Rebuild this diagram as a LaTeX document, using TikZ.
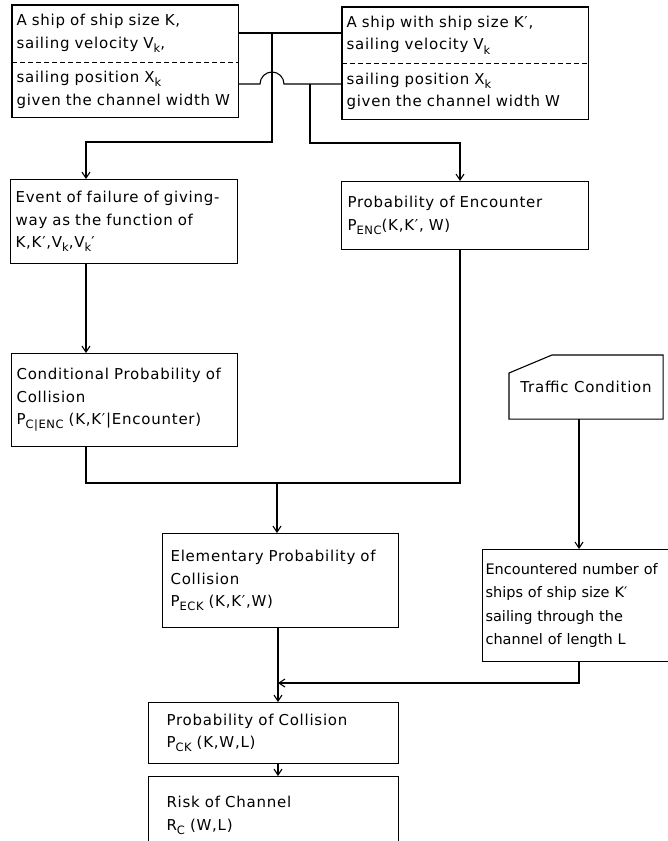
\documentclass[tikz,border=0pt]{standalone}
\usepackage{fontspec}
\setmainfont[LetterSpace=5]{DejaVu Sans}
\usetikzlibrary{arrows.meta,calc}
\newcommand{\lo}[1]{\raisebox{-0.5ex}{\fontsize{11.5}{11.5}\selectfont #1}}

\begin{document}
\begin{tikzpicture}[x=1pt,y=-1pt,line width=1.1pt,
    box/.style={draw,anchor=north west,align=left,inner ysep=0pt,
        font=\fontsize{15}{22.5}\selectfont},
    half/.style={box,draw=none},
    arr/.style={-{Straight Barb[length=6pt,width=8pt]}}]

    \useasboundingbox (0,0) rectangle (667,841);

    % TOP: the two ships
    \node[half,text width=217pt,inner xsep=4pt,minimum height=56pt] (Atop) at (12,5)
        {A ship of  ship size K,\\ sailing velocity V\lo{k},};
    \node[half,text width=217pt,inner xsep=4pt,minimum height=54pt] (Abot) at (Atop.south west)
        {sailing position X\lo{k}\\ given the channel width W};
    \draw (Atop.north west) rectangle (Abot.south east);
    \draw[dash pattern=on 5pt off 3pt] (Atop.south west) -- (Atop.south east);

    \node[half,text width=237pt,inner xsep=4pt,minimum height=55pt] (Btop) at (342,7)
        {A ship with ship size K′,\\ sailing velocity V\lo{k}};
    \node[half,text width=237pt,inner xsep=4pt,minimum height=55pt] (Bbot) at (Btop.south west)
        {sailing  position X\lo{k}\\ given the channel width W};
    \draw (Btop.north west) rectangle (Bbot.south east);
    \draw[dash pattern=on 5pt off 3pt] (Btop.south west) -- (Btop.south east);

    % Middle row
    \node[box,text width=217pt,inner xsep=5pt,minimum height=84pt] (C) at (10,179)
        {Event of failure of giving-\\ way as the function of\\ K,K′,V\lo{k},V\lo{k}′};
    \node[box,text width=235pt,inner xsep=6pt,minimum height=68pt] (D) at (341,181)
        {Probability of Encounter\\ P\lo{ENC}(K,K′, W)};
    \node[box,text width=216pt,inner xsep=5pt,minimum height=93pt] (E) at (11,353)
        {Conditional Probability of\\ Collision\\ P\lo{C|ENC} (K,K′|Encounter)};

    % Traffic side
    \node[box,draw=none,align=center,inner xsep=0pt,minimum width=153pt,minimum height=63pt] (G) at (509,355)
        {Traffic Condition};
    \draw ($(G.north west)+(43,0)$) -- (G.north east) -- (G.south east)
        -- (G.south west) -- ($(G.north west)+(0,18)$) -- cycle;
    \node[box,text width=205pt,inner xsep=3pt,minimum height=112pt,
        font=\fontsize{14.5}{23.5}\selectfont\addfontfeatures{LetterSpace=0}] (H) at (482,549)
        {Encountered number of\\ ships of ship size K′\\ sailing through the\\ channel of length L};

    % Lower column
    \node[box,text width=220pt,inner xsep=8pt,minimum height=94pt] (F) at (162,533)
        {Elementary Probability of\\ Collision\\ P\lo{ECK} (K,K′,W)};
    \node[box,text width=214pt,inner xsep=18pt,minimum height=61pt] (I) at (148,702)
        {Probability of Collision\\ P\lo{CK} (K,W,L)};
    \node[box,text width=214pt,inner xsep=18pt,minimum height=78pt] (J) at (148,776)
        {Risk of Channel\\ R\lo{C} (W,L)};

    % Connectors
    \coordinate (j1) at (272,33);
    \coordinate (j2) at (310,84);
    \coordinate (cL) at (86,142);
    \coordinate (dR) at (460,143);
    \coordinate (m) at (277,483);
    \coordinate (t) at (579,0);
    \coordinate (n) at (278,683);

    \draw (Atop.east |- j1) -- (Btop.west |- j1);
    \draw (Abot.east |- j2) -- ($(j1 |- j2)+(-12,0)$)
        arc[start angle=180,end angle=0,radius=12pt] -- (Bbot.west |- j2);
    \draw[arr] (j1) |- (cL) -- (cL |- C.north);
    \draw[arr] (j2) |- (dR) -- (dR |- D.north);
    \draw[arr] (C.south -| cL) -- (E.north -| cL);
    \draw (E.south -| cL) |- (m) -| (D.south -| dR);
    \draw[arr] (m) -- (m |- F.north);
    \draw[arr] (G.south -| t) -- (H.north -| t);
    \draw[arr] (H.south -| t) |- (n);
    \draw[arr] (F.south -| n) -- (I.north -| n);
    \draw[arr] (I.south -| n) -- (J.north -| n);

\end{tikzpicture}
\end{document}
